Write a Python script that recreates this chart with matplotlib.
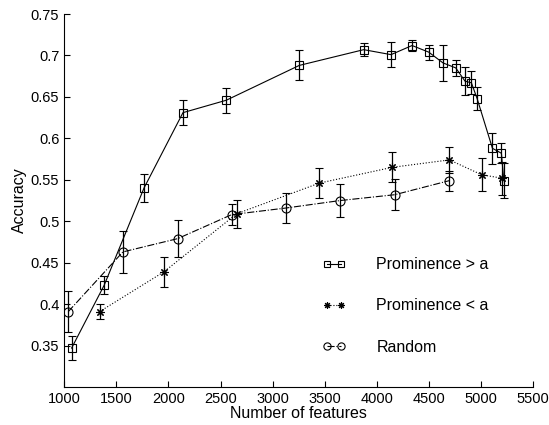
import matplotlib
matplotlib.use("Agg")
import matplotlib.pyplot as plt

plt.rcParams['font.family'] = ['Liberation Sans', 'DejaVu Sans']

# Prominence > a
x_gt = [1071, 1384, 1765, 2139, 2555, 3255, 3873, 4135, 4337, 4497, 4634, 4756, 4845, 4906, 4961, 5108, 5194, 5217]
y_gt = [0.347, 0.423, 0.540, 0.631, 0.646, 0.688, 0.707, 0.701, 0.712, 0.704, 0.691, 0.685, 0.669, 0.667, 0.648, 0.588, 0.582, 0.549]
e_gt = [0.014, 0.011, 0.017, 0.015, 0.015, 0.018, 0.008, 0.015, 0.007, 0.009, 0.022, 0.010, 0.017, 0.014, 0.014, 0.019, 0.012, 0.021]

# Prominence < a
x_lt = [1340, 1957, 2654, 3447, 4145, 4695, 5006, 5198]
y_lt = [0.391, 0.439, 0.509, 0.546, 0.565, 0.574, 0.556, 0.552]
e_lt = [0.009, 0.018, 0.017, 0.018, 0.018, 0.016, 0.020, 0.020]

# Random
x_rd = [1039, 1563, 2088, 2607, 3130, 3649, 4171, 4695]
y_rd = [0.391, 0.463, 0.479, 0.508, 0.516, 0.525, 0.532, 0.549]
e_rd = [0.025, 0.025, 0.022, 0.013, 0.018, 0.020, 0.019, 0.012]

xticks = [1000, 1500, 2000, 2500, 3000, 3500, 4000, 4500, 5000, 5500]
yticks = [0.35, 0.4, 0.45, 0.5, 0.55, 0.6, 0.65, 0.7, 0.75]
ytick_labels = ['0.35', '0.4', '0.45', '0.5', '0.55', '0.6', '0.65', '0.7', '0.75']

fig = plt.figure(figsize=(5.49, 4.25), dpi=100)
ax = fig.add_axes([0.117, 0.0894, 0.8544, 0.8776])

lw = 0.8
ekw = dict(ecolor='black', elinewidth=0.9, capsize=3, capthick=0.9)
ax.errorbar(x_gt, y_gt, yerr=e_gt, color='black', linestyle='-', linewidth=lw,
            marker='s', markersize=6, markerfacecolor='none', markeredgewidth=0.8,
            label='Prominence > a', **ekw)
ax.errorbar(x_lt, y_lt, yerr=e_lt, color='black', linestyle=':', linewidth=lw,
            marker=(8, 2, 0), markersize=6, markeredgewidth=0.8,
            label='Prominence < a', **ekw)
ax.errorbar(x_rd, y_rd, yerr=e_rd, color='black', linestyle='-.', linewidth=lw,
            marker='o', markersize=6.5, markerfacecolor='none', markeredgewidth=0.8,
            label='Random', **ekw)

ax.set_xlim(1000, 5500)
ax.set_ylim(0.3, 0.75)
ax.set_xticks(xticks)
ax.set_yticks(yticks)
ax.set_yticklabels(ytick_labels)
ax.tick_params(direction='in', length=4, labelsize=10.5, width=0.8)
for s in ['top', 'right']:
    ax.spines[s].set_visible(False)
ax.spines['left'].set_linewidth(0.8)
ax.spines['bottom'].set_linewidth(0.8)
ax.set_xlabel('Number of features', fontsize=11.5, labelpad=0)
ax.set_ylabel('Accuracy', fontsize=11.5, labelpad=3)

handles, labels = ax.get_legend_handles_labels()
handles = [h[0] for h in handles]
leg = ax.legend(handles, labels, loc='lower left', bbox_to_anchor=(0.536, 0.07),
                frameon=False, fontsize=11.5, numpoints=2, handlelength=1.5,
                labelspacing=1.63, handletextpad=1.9, markerscale=0.8,
                borderaxespad=0)

fig.savefig('out.png', dpi=100)
